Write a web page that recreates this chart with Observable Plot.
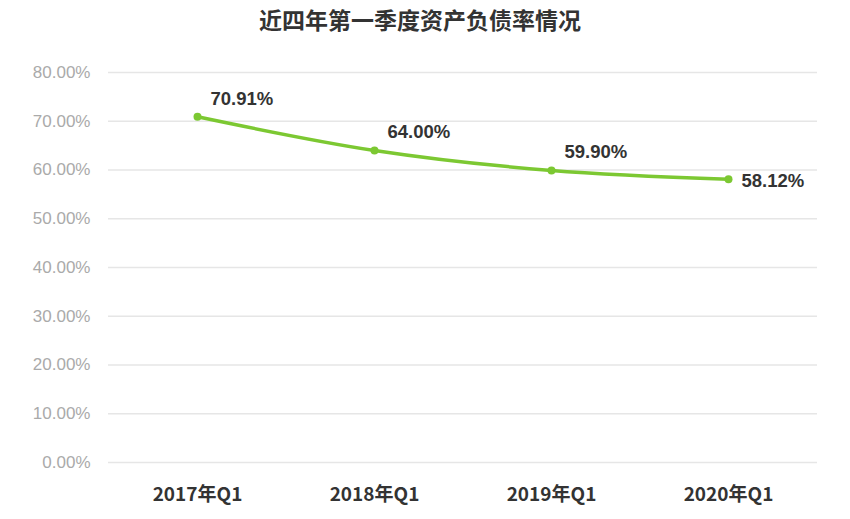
<!DOCTYPE html>
<html><head><meta charset="utf-8">
<script src="https://cdn.jsdelivr.net/npm/d3@7"></script>
<script src="https://cdn.jsdelivr.net/npm/@observablehq/plot@0.6"></script>
<style>
body{margin:0;background:#fff;}
#title{height:40px;line-height:38px;text-align:center;padding-right:10px;font-family:"Noto Sans CJK SC",sans-serif;font-weight:bold;font-size:23px;color:#333;letter-spacing:0px;}
</style></head><body>
<div id="title">近四年第一季度资产负债率情况</div>
<div id="chart"></div>
<script>
const categories = ["2017年Q1","2018年Q1","2019年Q1","2020年Q1"];
const values = [70.91, 64.00, 59.90, 58.12];
const yTicks = [0,10,20,30,40,50,60,70,80];
const data = categories.map((c,i)=>({cat:c, v:values[i], last:i===categories.length-1}));
const green = "#7cc832";
const chart = Plot.plot({
  width: 850, height: 479,
  marginTop: 32, marginBottom: 57, marginLeft: 108, marginRight: 33,
  x: {type:"point", domain: categories, padding: 0.5, label: null},
  y: {domain:[0,80], ticks: yTicks, label: null},
  marks: [
    Plot.gridY(yTicks, {stroke:"#e6e6e6", strokeOpacity:1, strokeWidth:1.5}),
    Plot.axisY(yTicks, {tickSize:0, tickPadding:18, tickFormat:d=>d.toFixed(2)+"%", fill:"#aaa", fontSize:17, fontFamily:"Liberation Sans, sans-serif", label:null}),
    Plot.axisX({tickSize:0, tickPadding:25, fill:"#333", fontSize:19, fontWeight:"bold", fontFamily:"Noto Sans CJK SC, sans-serif", label:null}),
    Plot.line(data, {x:"cat", y:"v", stroke:green, strokeWidth:3.5, curve:"monotone-x"}),
    Plot.dot(data, {x:"cat", y:"v", fill:green, r:4}),
    Plot.text(data.filter(d=>!d.last), {x:"cat", y:"v", text:d=>d.v.toFixed(2)+"%", textAnchor:"start", dx:13, dy:-18, fill:"#333", fontSize:18.5, fontWeight:"bold", fontFamily:"Liberation Sans, sans-serif"}),
    Plot.text(data.filter(d=>d.last), {x:"cat", y:"v", text:d=>d.v.toFixed(2)+"%", textAnchor:"start", dx:13, dy:2, fill:"#333", fontSize:18.5, fontWeight:"bold", fontFamily:"Liberation Sans, sans-serif"})
  ]
});
document.getElementById("chart").appendChild(chart);
</script>
</body></html>
